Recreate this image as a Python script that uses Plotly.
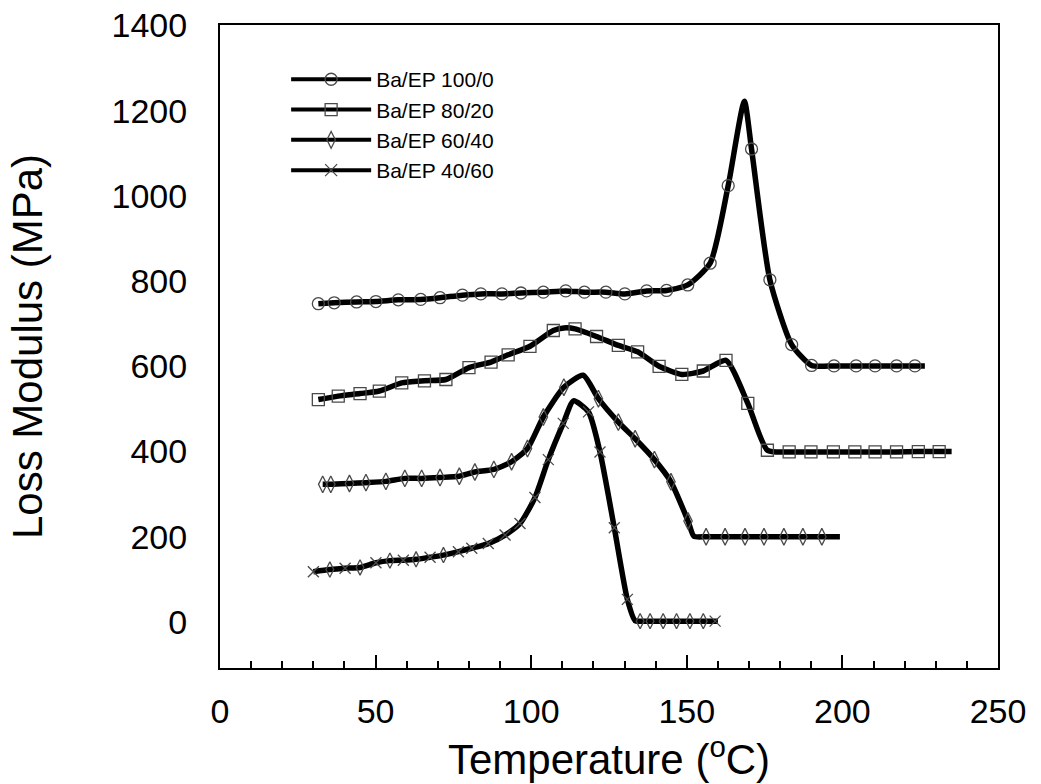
import plotly.graph_objects as go

# ---------------- data ----------------
series_names = ["Ba/EP 100/0", "Ba/EP 80/20", "Ba/EP 60/40", "Ba/EP 40/60"]

# Ba/EP 100/0 (circles)
t_100 = [31.6, 36.7, 43.9, 50.1, 57.3, 64.5, 70.7, 77.9, 83.8, 90.6, 96.7, 103.9,
         111.1, 117.1, 124.0, 130.1, 137.1, 143.5, 150.3, 157.5, 163.3, 170.8,
         176.7, 183.7, 190.1, 197.3, 204.4, 210.5, 217.4, 223.3]
m_100 = [747, 749, 751, 752, 756, 757, 761, 767, 770, 770, 772, 774,
         777, 774, 774, 770, 777, 778, 791, 842, 1024, 1110,
         803, 651, 602, 601, 601, 601, 601, 601]
t_100_extra = [168.5, 226.5]
m_100_extra = [1222, 601]

# Ba/EP 80/20 (squares)
t_80 = [31.6, 38.0, 45.0, 51.2, 58.4, 65.7, 72.6, 80.0, 87.1, 92.6, 99.6, 107.1,
        114.1, 121.0, 128.0, 134.2, 141.1, 148.4, 155.3, 162.6, 169.6, 175.9,
        182.9, 189.9, 197.1, 204.0, 210.5, 217.4, 224.4, 231.1]
m_80 = [522, 530, 536, 542, 561, 566, 569, 597, 610, 627, 647, 684,
        688, 670, 649, 634, 600, 581, 589, 614, 513, 403,
        399, 399, 399, 399, 399, 399, 400, 400]
t_80_extra = [110.5, 235.1]
m_80_extra = [690, 400]

# Ba/EP 60/40 (diamonds)
t_60 = [33.0, 35.6, 41.6, 46.9, 53.3, 59.4, 64.8, 70.7, 76.9, 81.9, 88.0, 93.7,
        98.8, 103.9, 110.5, 121.6, 128.0, 133.4, 139.6, 144.9, 150.4, 156.2,
        162.3, 168.7, 174.8, 181.2, 187.3, 193.4]
m_60 = [323, 323, 325, 327, 330, 337, 337, 339, 342, 352, 358, 376,
        407, 481, 551, 524, 469, 430, 381, 329, 237, 200,
        200, 200, 200, 200, 200, 200]
t_60_extra = [116.7, 152.3, 199.2]
m_60_extra = [579, 201, 200]

# Ba/EP 40/60 (crosses)
t_40 = [30.0, 35.3, 40.2, 45.0, 50.1, 54.6, 58.9, 63.0, 67.5, 71.8, 76.6, 80.9,
        86.2, 91.6, 96.4, 101.2, 105.5, 110.3, 118.4, 122.1, 126.7, 130.9,
        135.0, 138.2, 142.4, 146.7, 151.0, 155.3, 159.1]
m_40 = [118, 123, 126, 128, 139, 144, 145, 147, 152, 157, 165, 173,
        184, 204, 231, 292, 381, 466, 493, 399, 221, 53,
        2, 2, 2, 2, 2, 2, 2]
t_40_extra = [113.6, 133.4, 160.0]
m_40_extra = [519, 3, 2]

x_ticks = [0, 50, 100, 150, 200, 250]
y_ticks = [0, 200, 400, 600, 800, 1000, 1200, 1400]

x_title = "Temperature (<sup>o</sup>C)"
y_title = "Loss Modulus (MPa)"

# ---------------- styling ----------------
FONT = "Liberation Sans, Arial, sans-serif"
LINE_COLOR = "#000000"
MARK_COLOR = "#4a4a4a"

symbols = ["circle-open", "square-open", "diamond-tall-open", "x-thin-open"]
sizes = [12, 12, 12, 11]

# 40/60 markers show diamonds interleaved with crosses in the low and tail parts
sym_40 = []
for i, t in enumerate(t_40):
    if t < 80 and i % 2 == 1:
        sym_40.append("diamond-tall-open")
    elif 134 < t < 158:
        sym_40.append("diamond-tall-open")
    else:
        sym_40.append("x-thin-open")

series = [
    (t_100, m_100, t_100_extra, m_100_extra, symbols[0]),
    (t_80, m_80, t_80_extra, m_80_extra, symbols[1]),
    (t_60, m_60, t_60_extra, m_60_extra, symbols[2]),
    (t_40, m_40, t_40_extra, m_40_extra, sym_40),
]

fig = go.Figure()

for k, (tx, my, ex, ey, sym) in enumerate(series):
    pts = sorted(zip(list(tx) + list(ex), list(my) + list(ey)))
    lx = [p[0] for p in pts]
    ly = [p[1] for p in pts]
    fig.add_trace(go.Scatter(
        x=lx, y=ly, mode="lines",
        line=dict(color=LINE_COLOR, width=5.5, shape="spline", smoothing=0.6),
        showlegend=False, hoverinfo="skip"))
    fig.add_trace(go.Scatter(
        x=tx, y=my, mode="markers",
        marker=dict(symbol=sym, size=sizes[k], color=MARK_COLOR,
                    line=dict(color=MARK_COLOR, width=1.3)),
        showlegend=False))

# legend entries
for k, name in enumerate(series_names):
    fig.add_trace(go.Scatter(
        x=[None], y=[None], mode="lines+markers", name=name,
        line=dict(color=LINE_COLOR, width=4),
        marker=dict(symbol=symbols[k], size=12, color=MARK_COLOR,
                    line=dict(color=MARK_COLOR, width=1.3))))

fig.update_layout(
    width=1041, height=784,
    margin=dict(l=220, r=43, t=25, b=116),
    paper_bgcolor="white", plot_bgcolor="white",
    font=dict(family=FONT, color="black"),
    showlegend=True,
    legend=dict(x=0.085, y=0.947, xanchor="left", yanchor="top",
                bgcolor="rgba(0,0,0,0)", font=dict(size=21, family=FONT),
                tracegroupgap=0, itemwidth=80),
)

fig.update_xaxes(
    range=[0, 250], tickvals=x_ticks, ticktext=[str(v) for v in x_ticks],
    showgrid=False, zeroline=False, automargin=False,
    ticklabeloverflow="allow",
    showline=True, linecolor="black", linewidth=2, mirror=True,
    ticks="inside", ticklen=13, tickwidth=2, tickcolor="black",
    minor=dict(dtick=10, ticks="inside", ticklen=7, tickwidth=2, tickcolor="black"),
    tickfont=dict(size=34, family=FONT),
    ticklabelstandoff=12,
    title=dict(text=x_title, font=dict(size=42, family=FONT), standoff=12),
)
fig.update_yaxes(
    range=[-108, 1401], tickvals=y_ticks, ticktext=[str(v) for v in y_ticks],
    showgrid=False, zeroline=False, automargin=False,
    ticklabeloverflow="allow",
    showline=True, linecolor="black", linewidth=2, mirror=True,
    ticks="",
    tickfont=dict(size=34, family=FONT),
    ticklabelstandoff=24,
    title=dict(text=y_title, font=dict(size=42, family=FONT), standoff=56),
)

# remove the default 8px page margin so the figure fills the window exactly
fig.write_html("out.html",
               config={"displayModeBar": False},
               post_script="document.body.style.margin='0';")
